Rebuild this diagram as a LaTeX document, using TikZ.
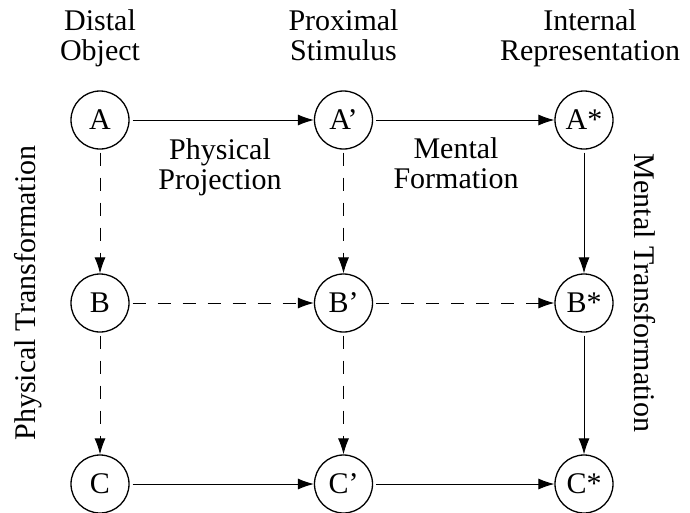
\documentclass[tikz,border=0pt]{standalone}
\usepackage{fontspec}
\setmainfont{Liberation Serif}
\usetikzlibrary{arrows.meta}
\begin{document}
\begin{tikzpicture}[x=1pt,y=1pt,
  state/.style={circle,draw,line width=1.3pt,minimum size=58pt,inner sep=0pt,
    font=\fontsize{30}{30}\selectfont},
  lbl/.style={inner sep=0pt,font=\fontsize{30}{30}\selectfont},
  conn/.style={line width=0.9pt,-{Latex[length=16pt,width=11pt]},shorten <=3pt},
  dconn/.style={conn,dash pattern=on 13pt off 12pt}]
\useasboundingbox (0,0) rectangle (690,-512);
% nodes
\node[state] (A)  at (100,-120) {A};
\node[state] (Ap) at (343.5,-120) {A'};
\node[state] (As) at (584,-120) {A*};
\node[state] (B)  at (100,-303) {B};
\node[state] (Bp) at (343.5,-303) {B'};
\node[state] (Bs) at (584,-303) {B*};
\node[state] (C)  at (100,-484) {C};
\node[state] (Cp) at (343.5,-484) {C'};
\node[state] (Cs) at (584,-484) {C*};
% column headings
\node[lbl,anchor=base] (h1) at (100,-30) {\begin{tabular}[t]{@{}c@{}}Distal\\Object\end{tabular}};
\node[lbl,anchor=base] (h2) at (343.5,-30) {\begin{tabular}[t]{@{}c@{}}Proximal\\Stimulus\end{tabular}};
\node[lbl,anchor=base] (h3) at (590,-30) {\begin{tabular}[t]{@{}c@{}}Internal\\Representation\end{tabular}};
% middle labels
\node[lbl,anchor=base] (pp) at (220,-159) {\begin{tabular}[t]{@{}c@{}}Physical\\Projection\end{tabular}};
\node[lbl,anchor=base] (mf) at (456,-158) {\begin{tabular}[t]{@{}c@{}}Mental\\Formation\end{tabular}};
% side labels
\node[lbl,anchor=base,rotate=90] (pt) at (35,-293) {Physical Transformation};
\node[lbl,anchor=base,rotate=-90] (mt) at (634,-293) {Mental Transformation};
% connectors
\draw[conn] (A) -- (Ap);
\draw[conn] (Ap) -- (As);
\draw[conn] (As) -- (Bs);
\draw[conn] (Bs) -- (Cs);
\draw[conn] (C) -- (Cp);
\draw[conn] (Cp) -- (Cs);
\draw[dconn] (A) -- (B);
\draw[dconn] (B) -- (C);
\draw[dconn] (Ap) -- (Bp);
\draw[dconn] (Bp) -- (Cp);
\draw[dconn] (B) -- (Bp);
\draw[dconn] (Bp) -- (Bs);
\end{tikzpicture}
\end{document}
